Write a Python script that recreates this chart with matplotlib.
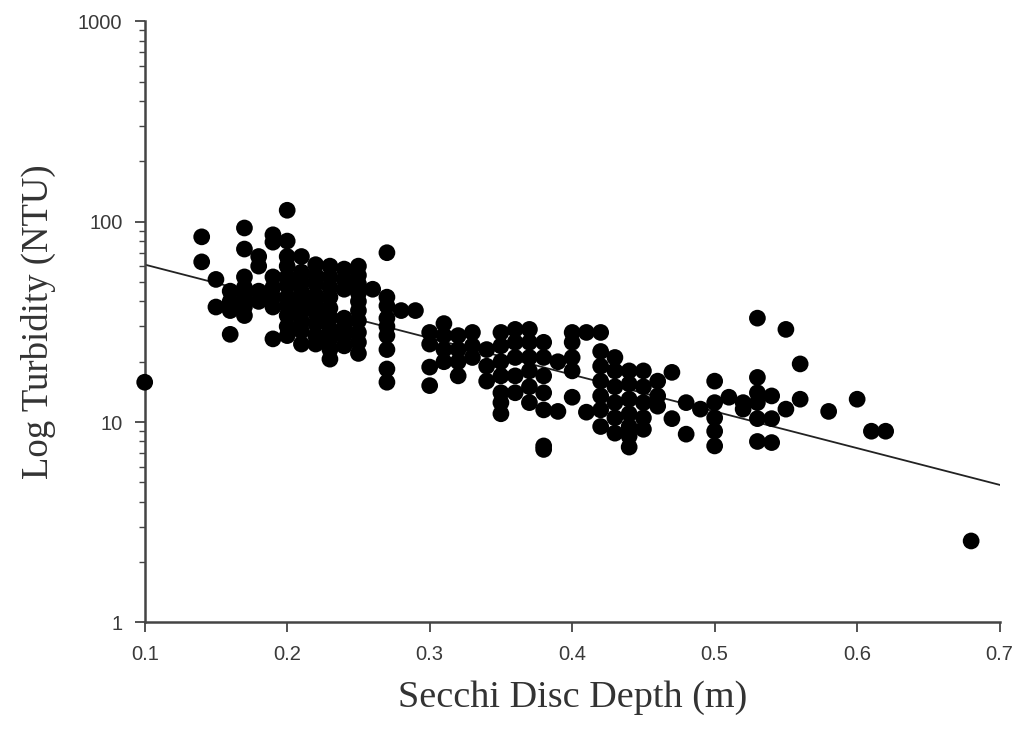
import numpy as np
import matplotlib.pyplot as plt
from matplotlib.ticker import FuncFormatter, LogLocator

# turbidity readings grouped by secchi depth (m)
depths = [0.10, 0.14, 0.15, 0.16, 0.17, 0.18, 0.19, 0.20, 0.21, 0.22,
          0.23, 0.24, 0.25, 0.26, 0.27, 0.28, 0.29, 0.30, 0.31, 0.32,
          0.33, 0.34, 0.35, 0.36, 0.37, 0.38, 0.39, 0.40, 0.41, 0.42,
          0.43, 0.44, 0.45, 0.46, 0.47, 0.48, 0.49, 0.50, 0.51, 0.52,
          0.53, 0.54, 0.55, 0.56, 0.58, 0.60, 0.61, 0.62, 0.68]
turbidity = [
    [15.8],
    [84, 63],
    [51.5, 37.5],
    [45, 40, 36, 27.4],
    [93, 73, 53, 47, 42, 37.5, 34],
    [67, 60, 45, 40],
    [86, 79, 53, 47, 42, 37.5, 26],
    [114, 80, 67, 60, 53, 48, 42, 38, 34, 30, 27],
    [67, 56, 50, 45, 40, 36, 32, 28.5, 24.5],
    [61, 54, 49, 43, 39, 35, 31, 27, 24.5],
    [60, 53, 47, 42, 37, 33, 29, 26, 23, 20.6],
    [58, 51.5, 46, 33, 30, 27, 24],
    [60, 54, 49, 44, 40, 36, 32, 28, 25, 22],
    [46],
    [70, 42, 38, 33, 30, 27, 23, 18.4, 15.8],
    [36],
    [36],
    [28, 24.5, 18.8, 15.2],
    [31, 27, 23, 20],
    [27, 23, 20, 17],
    [28, 24, 21],
    [23, 19, 16],
    [28, 24, 20, 17, 14, 12.5, 11],
    [29, 25, 21, 17, 14],
    [29, 25, 21, 18, 15, 12.5],
    [25, 21, 17, 14, 11.5, 7.6, 7.3],
    [20, 11.3],
    [28, 25, 21, 18, 13.3],
    [28, 11.2],
    [28, 22.5, 19, 16, 13.5, 11.5, 9.5],
    [21, 18, 15, 12.5, 10.5, 8.8],
    [18, 15.5, 13, 11, 9.5, 8.5, 7.5],
    [18, 15, 12.5, 10.5, 9.2],
    [16, 13.5, 12],
    [17.7, 10.4],
    [12.5, 8.7],
    [11.6],
    [16, 12.5, 10.5, 9, 7.6],
    [13.3],
    [12.5, 11.6],
    [33, 16.7, 14, 12.5, 10.4, 8],
    [13.5, 10.4, 7.9],
    [29, 11.6],
    [19.5, 13],
    [11.3],
    [13],
    [9.0],
    [9.0],
    [2.55],
]

# log10(turbidity) = fit_intercept + fit_slope * depth
fit_intercept = 1.969
fit_slope = -1.832
fit_range = [0.1, 0.7]

x = np.concatenate([[d] * len(t) for d, t in zip(depths, turbidity)])
y = np.concatenate(turbidity)

fig = plt.figure(figsize=(10.19, 7.34), dpi=100)
ax = fig.add_axes([0.142, 0.152, 0.839, 0.819])

ax.scatter(x, y, s=145, color='black', edgecolors='none', zorder=3, clip_on=False)
xf = np.array(fit_range)
ax.plot(xf, 10 ** (fit_intercept + fit_slope * xf), color='#222222', lw=1.3, zorder=2)

ax.set_yscale('log')
ax.set_xlim(0.1, 0.7)
ax.set_ylim(1, 1000)
ax.set_xticks(np.arange(0.1, 0.71, 0.1))
ax.xaxis.set_major_formatter(FuncFormatter(lambda v, p: f'{v:.1f}'))
ax.yaxis.set_major_locator(LogLocator(base=10))
ax.yaxis.set_major_formatter(FuncFormatter(lambda v, p: f'{v:g}'))
ax.yaxis.set_minor_locator(LogLocator(base=10, subs=np.arange(2, 10)))

for s in ['top', 'right']:
    ax.spines[s].set_visible(False)
for s in ['left', 'bottom']:
    ax.spines[s].set_color('#444444')
    ax.spines[s].set_linewidth(1.8)

ax.tick_params(which='major', length=7, width=1.3, color='#444444',
               labelsize=14.5, labelcolor='#3a3a3a', pad=9)
ax.tick_params(which='minor', length=4, width=1, color='#444444')
for lab in ax.get_xticklabels() + ax.get_yticklabels():
    lab.set_family('Liberation Sans')

ax.set_xlabel('Secchi Disc Depth (m)', family='Liberation Serif', fontsize=27.5,
              color='#333333', labelpad=12)
ax.set_ylabel('Log Turbidity (NTU)', family='Liberation Serif', fontsize=26.5,
              color='#333333', labelpad=16)

fig.savefig('out.png', dpi=100)
